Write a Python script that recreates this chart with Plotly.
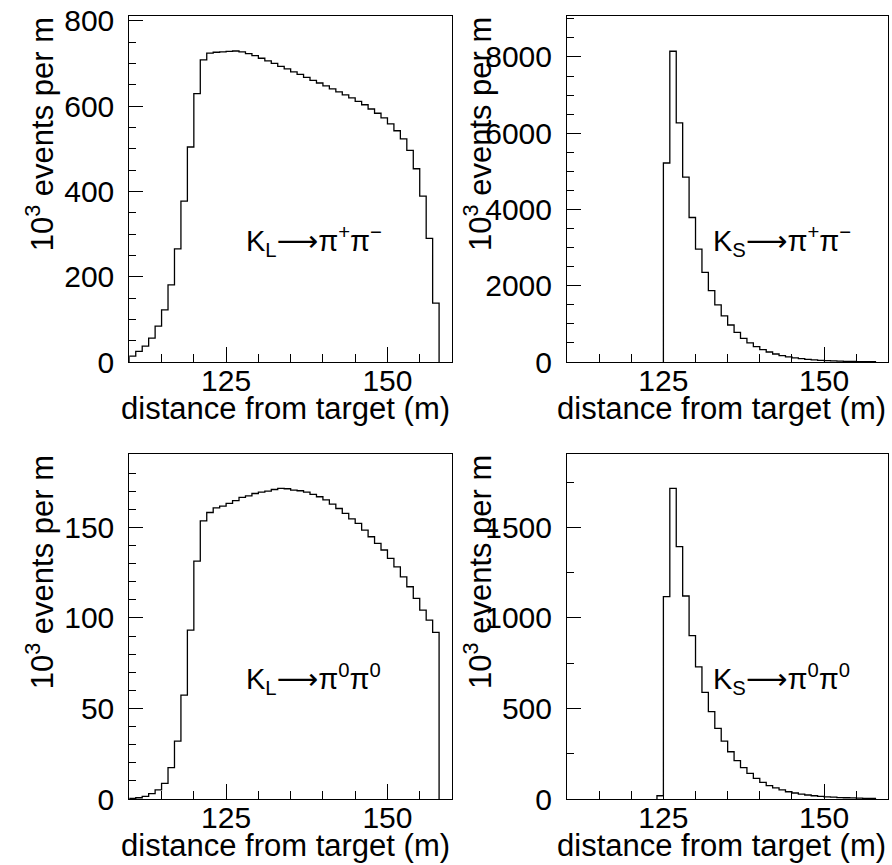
import plotly.graph_objects as go

W, H = 892, 865
BIN_WIDTH = 1.0
X_RANGE = [110, 160]

# K_L -> pi+ pi- (bins of 1 m starting at 110 m), 10^3 events per m
kl_pm_start = 110
kl_pm = [14, 25, 37, 56, 84, 122, 181, 265, 377, 504, 629, 708,
         724, 726, 727, 728, 729, 727, 723, 718, 712, 706, 700, 693,
         687, 680, 674, 667, 660, 654, 647, 640, 633, 626, 619, 611,
         603, 593, 583, 572, 558, 542, 523, 496, 453, 389, 290, 138]

# K_S -> pi+ pi- (starting at 125 m)
ks_pm_start = 125
ks_pm = [5220, 8150, 6270, 4850, 3790, 2960, 2350, 1870, 1500, 1210,
         970, 775, 620, 500, 405, 325, 262, 210, 168, 135, 108, 87,
         70, 56, 45, 36, 29, 23, 19, 15, 12, 10, 8]

# K_L -> pi0 pi0 (starting at 110 m)
kl_00_start = 110
kl_00 = [0.4, 0.7, 1.5, 3.0, 5.0, 8.6, 17.3, 32.0, 57.4, 93.3, 131.4, 153.6,
         158.2, 160.8, 161.7, 163.2, 164.7, 166.5, 167.4, 168.7, 169.5, 170.0,
         170.9, 171.5, 171.3, 170.6, 170.2, 169.5, 168.2, 166.9, 165.2, 162.8,
         160.4, 157.7, 154.7, 152.2, 148.5, 144.8, 141.1, 137.5, 132.9, 128.2,
         122.7, 117.2, 110.8, 104.3, 98.8, 92.0]

# K_S -> pi0 pi0 (starting at 124 m)
ks_00_start = 124
ks_00 = [18, 1117, 1715, 1393, 1121, 902, 730, 589, 482, 390, 320, 261,
         212, 173, 142, 114, 92, 74, 61, 50, 40, 33, 27, 22, 18, 15, 12,
         10, 8, 7, 6, 5, 4, 3]

x_title = "distance from target (m)"
y_title = "10<sup>3</sup> events per m"

panels = [
    dict(start=kl_pm_start, vals=kl_pm, yr=[0, 811], dt=200, mdt=50,
         label="K<sub>L</sub>⟶π<sup>+</sup>π<sup>−</sup>",
         px=(129.3, 452.0), py=(16, 362), lab=(313.5, 241)),
    dict(start=ks_pm_start, vals=ks_pm, yr=[0, 9075], dt=2000, mdt=500,
         label="K<sub>S</sub>⟶π<sup>+</sup>π<sup>−</sup>",
         px=(567.0, 888.3), py=(16, 362), lab=(781.7, 241)),
    dict(start=kl_00_start, vals=kl_00, yr=[0, 190.5], dt=50, mdt=10,
         label="K<sub>L</sub>⟶π<sup>0</sup>π<sup>0</sup>",
         px=(129.3, 452.0), py=(454, 799), lab=(313.5, 679)),
    dict(start=ks_00_start, vals=ks_00, yr=[0, 1905], dt=500, mdt=250,
         label="K<sub>S</sub>⟶π<sup>0</sup>π<sup>0</sup>",
         px=(567.0, 888.3), py=(454, 799), lab=(781.7, 679)),
]

FONT = "Liberation Sans, Arial, DejaVu Sans, sans-serif"
fig = go.Figure()
annotations = []

for i, p in enumerate(panels, start=1):
    vals = p["vals"]
    edges = [p["start"] + k * BIN_WIDTH for k in range(len(vals) + 1)]
    xs = [edges[0]] + edges[:-1] + [edges[-1]]
    ys = [0] + list(vals) + [0]
    xa = "x" if i == 1 else f"x{i}"
    ya = "y" if i == 1 else f"y{i}"
    fig.add_trace(go.Scatter(x=xs, y=ys, mode="lines", line_shape="hv",
                             line=dict(color="black", width=1.3),
                             xaxis=xa, yaxis=ya, showlegend=False,
                             hoverinfo="skip"))
    x0, x1 = p["px"]
    y0, y1 = p["py"]
    xdom = [x0 / W, x1 / W]
    ydom = [1 - y1 / H, 1 - y0 / H]
    xkey = "xaxis" if i == 1 else f"xaxis{i}"
    ykey = "yaxis" if i == 1 else f"yaxis{i}"
    fig.update_layout(**{
        xkey: dict(domain=xdom, range=X_RANGE, anchor=ya,
                   showgrid=False, zeroline=False, automargin=False,
                   showline=True, linecolor="black", linewidth=1, mirror=True,
                   ticks="inside", ticklen=15, tickwidth=1, tickcolor="black",
                   tick0=0, dtick=25, ticklabelstandoff=-8,
                   tickfont=dict(family=FONT, size=30, color="black"),
                   minor=dict(ticks="inside", ticklen=8, dtick=5, tick0=0,
                              tickcolor="black", tickwidth=1, showgrid=False)),
        ykey: dict(domain=ydom, range=p["yr"], anchor=xa,
                   showgrid=False, zeroline=False, automargin=False,
                   showline=True, linecolor="black", linewidth=1, mirror=True,
                   ticks="inside", ticklen=14, tickwidth=1, tickcolor="black",
                   tick0=0, dtick=p["dt"], ticklabelstandoff=8,
                   tickfont=dict(family=FONT, size=30, color="black"),
                   minor=dict(ticks="inside", ticklen=7, dtick=p["mdt"], tick0=0,
                              tickcolor="black", tickwidth=1, showgrid=False)),
    })
    # x-axis title, right aligned with the frame
    annotations.append(dict(text=x_title, xref="paper", yref="paper",
                            x=x1 / W, y=1 - (y1 + 46) / H,
                            xanchor="right", yanchor="middle", showarrow=False,
                            font=dict(family=FONT, size=31, color="black")))
    # y-axis title, rotated, aligned with the top of the frame
    annotations.append(dict(text=y_title, xref="paper", yref="paper",
                            x=(x0 - 89) / W, y=1 - (y0 - 1) / H,
                            xanchor="center", yanchor="top", textangle=-90,
                            showarrow=False,
                            font=dict(family=FONT, size=31, color="black")))
    # decay label
    annotations.append(dict(text=p["label"], xref="paper", yref="paper",
                            x=p["lab"][0] / W, y=1 - p["lab"][1] / H,
                            xanchor="center", yanchor="middle", showarrow=False,
                            font=dict(family=FONT, size=29, color="black")))

fig.update_layout(width=W, height=H,
                  margin=dict(l=0, r=0, t=0, b=0, pad=0, autoexpand=False),
                  paper_bgcolor="white", plot_bgcolor="white",
                  annotations=annotations, showlegend=False)

fig.write_html("out.html",
               config={"displayModeBar": False, "responsive": False},
               post_script="document.body.style.margin='0';"
                           "document.body.style.padding='0';"
                           "document.body.style.overflow='hidden';"
                           "document.documentElement.style.overflow='hidden';")
